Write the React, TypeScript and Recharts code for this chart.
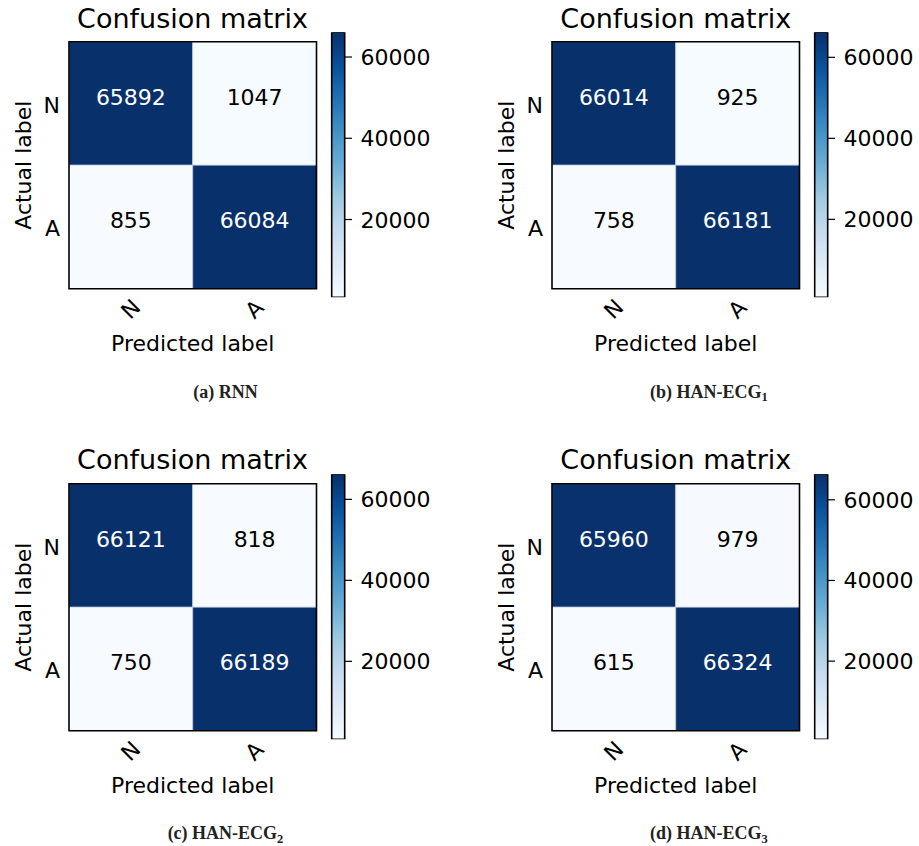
import React from 'react';
import { ComposedChart, BarChart, Bar, XAxis, YAxis, Scatter, ReferenceArea, Label } from 'recharts';

// ---------- data ----------
const CLASS_LABELS = ['N', 'A'];
const RNN_MATRIX = [[65892, 1047], [855, 66084]];
const HAN_ECG1_MATRIX = [[66014, 925], [758, 66181]];
const HAN_ECG2_MATRIX = [[66121, 818], [750, 66189]];
const HAN_ECG3_MATRIX = [[65960, 979], [615, 66324]];
const COLORBAR_TICKS = [20000, 40000, 60000];
const CAPTION_LETTERS = ['a', 'b', 'c', 'd'];
const CAPTION_NAMES = ['RNN', 'HAN-ECG', 'HAN-ECG', 'HAN-ECG'];
const CAPTION_SUBS = ['', '1', '2', '3'];
const TITLE = 'Confusion matrix';
const X_TITLE = 'Predicted label';
const Y_TITLE = 'Actual label';

// ---------- style ----------
const BLUES = ['#f7fbff', '#deebf7', '#c6dbef', '#9ecae1', '#6baed6', '#4292c6', '#2171b5', '#08519c', '#08306b'];
const SANS = "'DejaVu Sans', sans-serif";
const SERIF = "'Liberation Serif', 'Times New Roman', serif";

const hexToRgb = (h: string) => [1, 3, 5].map((i) => parseInt(h.slice(i, i + 2), 16));
const blues = (t: number) => {
  const c = Math.max(0, Math.min(1, t)) * (BLUES.length - 1);
  const i = Math.min(Math.floor(c), BLUES.length - 2);
  const f = c - i;
  const a = hexToRgb(BLUES[i]);
  const b = hexToRgb(BLUES[i + 1]);
  const m = a.map((v, k) => Math.round(v + (b[k] - v) * f));
  return `rgb(${m[0]},${m[1]},${m[2]})`;
};

const PANEL_DX = 483.3;
const PANEL_DY = 441.5;

const PANELS = [
  { matrix: RNN_MATRIX, col: 0, row: 0 },
  { matrix: HAN_ECG1_MATRIX, col: 1, row: 0 },
  { matrix: HAN_ECG2_MATRIX, col: 0, row: 1 },
  { matrix: HAN_ECG3_MATRIX, col: 1, row: 1 },
];

const Panel = ({ matrix }: { matrix: number[][] }) => {
  const flat = matrix.flat();
  const vmin = Math.min(...flat);
  const vmax = Math.max(...flat);
  const thresh = vmax / 2;
  const cells = matrix.flatMap((r, ri) => r.map((v, ci) => ({ x: ci, y: ri, v })));
  const cbData = [{ name: 'cb', range: [vmin, vmax] }];

  const xTick = (p: any) => (
    <text
      x={p.x}
      y={p.y + 20.5}
      transform={`rotate(-45 ${p.x} ${p.y + 20.5})`}
      textAnchor="middle"
      dominantBaseline="central"
      fontSize={22}
      fontFamily={SANS}
      fill="#000"
    >
      {CLASS_LABELS[p.payload.value]}
    </text>
  );
  const yTick = (p: any) => (
    <text x={p.x - 9} y={p.y + 9.5} textAnchor="end" fontSize={22} fontFamily={SANS} fill="#000">
      {CLASS_LABELS[p.payload.value]}
    </text>
  );
  const cbTick = (p: any) => (
    <text x={p.x} y={p.y + 8} textAnchor="start" fontSize={22} fontFamily={SANS} fill="#000">
      {p.payload.value}
    </text>
  );
  const cellText = (p: any) => (
    <text
      x={p.cx}
      y={p.cy + 1.5}
      textAnchor="middle"
      fontSize={22}
      fontFamily={SANS}
      fill={p.payload.v > thresh ? '#ffffff' : '#000000'}
    >
      {p.payload.v}
    </text>
  );

  return (
    <>
      <div style={{ position: 'absolute', left: 0, top: 0 }}>
        <ComposedChart
          width={330}
          height={360}
          margin={{ top: 41.7, left: 29, right: 13.5, bottom: 11.3 }}
        >
          <XAxis
            type="number"
            dataKey="x"
            domain={[-0.5, 1.5]}
            ticks={[0, 1]}
            allowDataOverflow
            height={60}
            axisLine={false}
            tickLine={false}
            tickSize={0}
            tickMargin={0}
            tick={xTick}
            interval={0}
          >
            <Label
              content={(p: any) => (
                <text
                  x={p.viewBox.x + p.viewBox.width / 2}
                  y={p.viewBox.y + 62}
                  textAnchor="middle"
                  fontSize={22}
                  fontFamily={SANS}
                  fill="#000"
                >
                  {X_TITLE}
                </text>
              )}
            />
          </XAxis>
          <YAxis
            type="number"
            dataKey="y"
            domain={[-0.5, 1.5]}
            ticks={[0, 1]}
            reversed
            allowDataOverflow
            width={40}
            axisLine={false}
            tickLine={false}
            tickSize={0}
            tickMargin={0}
            tick={yTick}
            interval={0}
          >
            <Label
              content={(p: any) => {
                const cx = p.viewBox.x + 2.5;
                const cy = p.viewBox.y + p.viewBox.height / 2;
                return (
                  <text
                    x={cx}
                    y={cy}
                    transform={`rotate(-90 ${cx} ${cy})`}
                    textAnchor="middle"
                    fontSize={22}
                    fontFamily={SANS}
                    fill="#000"
                  >
                    {Y_TITLE}
                  </text>
                );
              }}
            />
          </YAxis>
          {cells.map((c) => (
            <ReferenceArea
              key={`c${c.x}${c.y}`}
              x1={c.x - 0.5}
              x2={c.x + 0.5}
              y1={c.y - 0.5}
              y2={c.y + 0.5}
              fill={blues((c.v - vmin) / (vmax - vmin))}
              fillOpacity={1}
              stroke="#c9d3e2"
              strokeWidth={0.6}
              ifOverflow="visible"
            />
          ))}
          <ReferenceArea
            x1={-0.5}
            x2={1.5}
            y1={-0.5}
            y2={1.5}
            fill="none"
            fillOpacity={0}
            stroke="#000"
            strokeWidth={1.6}
            ifOverflow="visible"
          />
          <Scatter data={cells} shape={cellText} isAnimationActive={false} />
        </ComposedChart>
      </div>
      <div style={{ position: 'absolute', left: 320, top: 0 }}>
        <BarChart
          width={130}
          height={330}
          data={cbData}
          barCategoryGap={0}
          barGap={0}
          margin={{ top: 32.3, bottom: 32.7, left: 11.7, right: 35 }}
        >
          <XAxis type="category" dataKey="name" hide />
          <YAxis
            type="number"
            orientation="right"
            domain={[vmin, vmax]}
            allowDataOverflow
            ticks={COLORBAR_TICKS}
            width={70}
            axisLine={false}
            tickLine={{ stroke: '#000', strokeWidth: 1.2 }}
            tickSize={7}
            tickMargin={8.5}
            tick={cbTick}
            interval={0}
          />
          <Bar
            dataKey="range"
            fill="url(#bluesGrad)"
            stroke="#000"
            strokeWidth={1.6}
            isAnimationActive={false}
          />
        </BarChart>
      </div>
    </>
  );
};

export default function App() {
  return (
    <div
      style={{
        position: 'absolute',
        left: 0,
        top: 0,
        width: 919,
        height: 846,
        overflow: 'hidden',
        background: '#fff',
      }}
    >
      <svg width={0} height={0} style={{ position: 'absolute', left: 0, top: 0 }}>
        <defs>
          <linearGradient id="bluesGrad" x1="0" y1="1" x2="0" y2="0">
            {BLUES.map((c, i) => (
              <stop key={i} offset={i / (BLUES.length - 1)} stopColor={c} />
            ))}
          </linearGradient>
        </defs>
      </svg>
      {PANELS.map((p, i) => (
        <div
          key={i}
          style={{ position: 'absolute', left: p.col * PANEL_DX, top: p.row * PANEL_DY, width: 460, height: 420 }}
        >
          <Panel matrix={p.matrix} />
        </div>
      ))}
      <svg
        width={919}
        height={846}
        style={{ position: 'absolute', left: 0, top: 0, pointerEvents: 'none' }}
      >
        {PANELS.map((p, i) => {
          const ox = p.col * PANEL_DX;
          const oy = p.row * PANEL_DY;
          return (
            <g key={i}>
              <text x={ox + 192.5} y={oy + 27.5} textAnchor="middle" fontSize={27} fontFamily={SANS} fill="#000">
                {TITLE}
              </text>
              <text
                x={ox + 225.5}
                y={oy + 397.5}
                textAnchor="middle"
                fontSize={18}
                fontWeight="bold"
                fontFamily={SERIF}
                fill="#222"
              >
                {`(${CAPTION_LETTERS[i]}) ${CAPTION_NAMES[i]}`}
                {CAPTION_SUBS[i] ? (
                  <tspan fontSize={12.5} dy={3.5}>
                    {CAPTION_SUBS[i]}
                  </tspan>
                ) : null}
              </text>
            </g>
          );
        })}
      </svg>
    </div>
  );
}
